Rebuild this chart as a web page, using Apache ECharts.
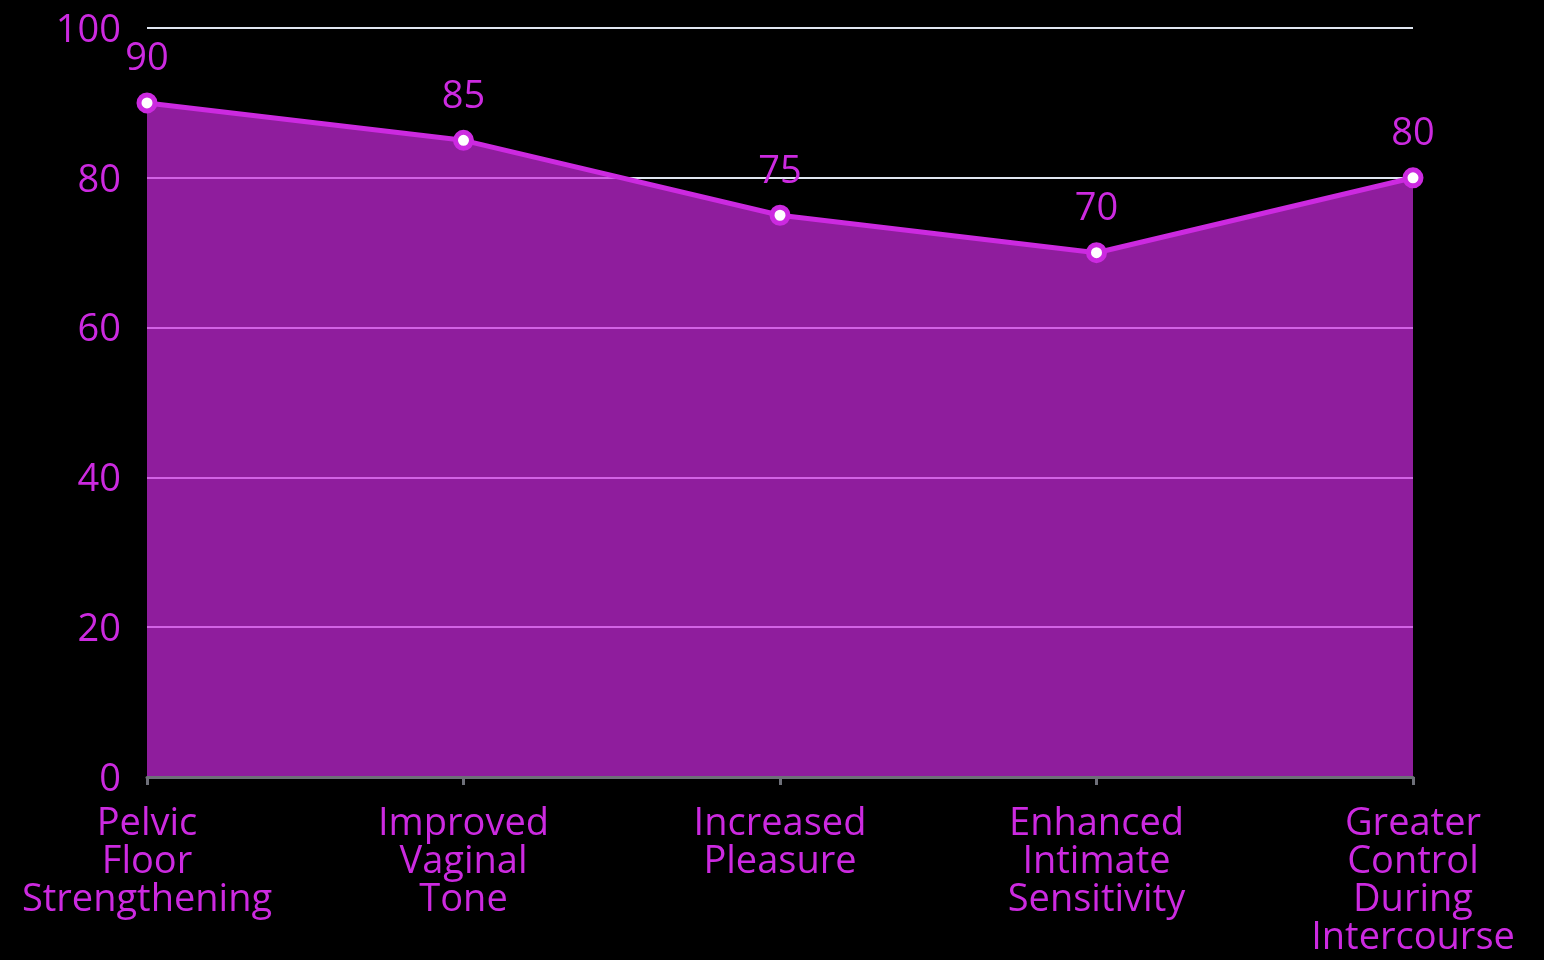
<!DOCTYPE html>
<html>
<head>
<meta charset="utf-8">
<script src="https://cdn.jsdelivr.net/npm/echarts@6/dist/echarts.min.js"></script>
<style>
  html, body { margin: 0; padding: 0; background: #000; }
  #chart { width: 1544px; height: 960px; }
</style>
</head>
<body>
<div id="chart"></div>
<script>
// benefit categories and scores
const categories = [
  "Pelvic\nFloor\nStrengthening",
  "Improved\nVaginal\nTone",
  "Increased\nPleasure",
  "Enhanced\nIntimate\nSensitivity",
  "Greater\nControl\nDuring\nIntercourse"
];
const scores = [90, 85, 75, 70, 80];

const accent = "#cc2ae0";
const font = "Open Sans";

const chart = echarts.init(document.getElementById("chart"));
chart.setOption({
  backgroundColor: "#000",
  animation: false,
  grid: { left: 147, right: 131, top: 28, bottom: 183 },
  xAxis: {
    type: "category",
    data: categories,
    boundaryGap: false,
    z: 5,
    axisLine: { lineStyle: { color: "#6e7079", width: 3 } },
    axisTick: { show: true, length: 8, lineStyle: { color: "#6e7079", width: 3 } },
    axisLabel: {
      color: accent, fontSize: 38, fontFamily: font, lineHeight: 38,
      margin: 28, interval: 0
    }
  },
  yAxis: {
    type: "value",
    min: 0, max: 100, interval: 20,
    axisLine: { show: false },
    axisTick: { show: false },
    axisLabel: {
      color: accent, fontSize: 38, fontFamily: font, margin: 26,
      formatter: (v) => "{t|" + v + "}",
      rich: { t: { color: accent, fontSize: 38, fontFamily: font, padding: [6, 0, 0, 0] } }
    },
    splitLine: { lineStyle: { color: "#e0e6f1", width: 2 } }
  },
  series: [{
    type: "line",
    data: scores,
    symbol: "circle",
    symbolSize: 16,
    lineStyle: { color: accent, width: 5 },
    itemStyle: { color: "#fff", borderColor: accent, borderWidth: 5 },
    areaStyle: { color: accent, opacity: 0.7 },
    label: {
      show: true, position: "top", distance: 14,
      color: accent, fontSize: 38, fontFamily: font
    }
  }]
});
</script>
</body>
</html>
